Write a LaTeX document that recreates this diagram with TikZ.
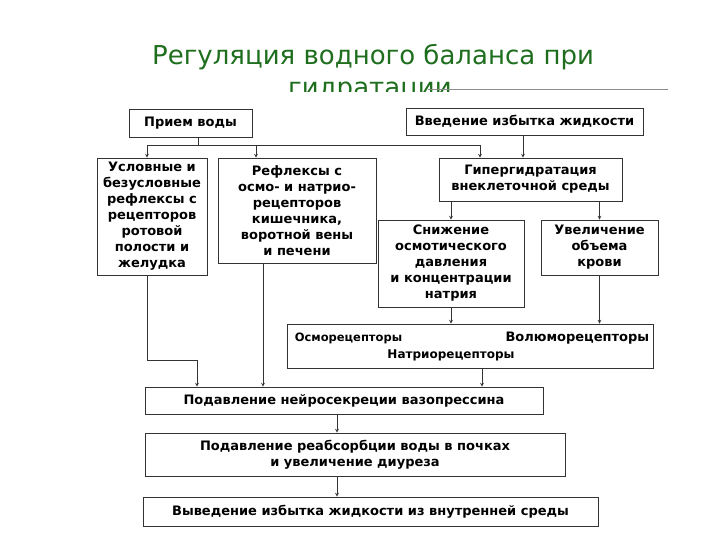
\documentclass[tikz,border=0pt]{standalone}
\usepackage{fontspec}
\setmainfont{DejaVu Sans}
\definecolor{titlegreen}{HTML}{1E6E1E}
\usetikzlibrary{positioning, arrows, calc}
\tikzstyle{arrow} = [line width=0.7pt,draw=black!80,->,>=stealth]

\begin{document}
\begin{tikzpicture}[x=1pt,y=-1pt]
                    \tikzstyle{every node}=[font=\bfseries\fontsize{13}{16}\selectfont]
                    \tikzstyle{box} = [draw=black!80, line width=0.8pt, inner sep=2pt, align=center]
                    \tikzstyle{heading} = [font=\fontsize{26}{32}\selectfont, text=titlegreen, anchor=base]
                    \tikzstyle{line} = [line width=0.7pt, draw=black!80]

                    \useasboundingbox (0,0) rectangle (720,540);

                    % title, second line hidden under the scan
                    \begin{scope}
                    \clip (0,0) rectangle (720,91.5);
                    \node[heading] (title1) at (373,65) {Регуляция водного баланса при};
                    \node[heading] (title2) at (370,97) {гидратации};
                    \end{scope}
                    \draw[black!45, line width=0.6pt] (428,89) -- (668,89);

                    % boxes
                    \node[box, minimum width=123, minimum height=28] (priem) at (190.5,123) {Прием воды};
                    \node[box, minimum width=237, minimum height=27] (vved) at (524.5,121.5) {Введение избытка жидкости};
                    \node[box, minimum width=110, minimum height=117] (uslov) at (152,216.5) {Условные и\\безусловные\\рефлексы с\\рецепторов\\ротовой\\полости и\\желудка};
                    \node[box, minimum width=158, minimum height=105] (reflex) at (297,210.5) {Рефлексы с\\осмо- и натрио-\\рецепторов\\кишечника,\\воротной вены\\и печени};
                    \node[box, minimum width=183, minimum height=43] (giper) at (530.5,179.5) {Гипергидратация\\внеклеточной среды};
                    \node[box, minimum width=146, minimum height=87] (snizh) at (451,263.5) {Снижение\\осмотического\\давления\\и концентрации\\натрия};
                    \node[box, minimum width=117, minimum height=55] (uvel) at (599.5,247.5) {Увеличение\\объема\\крови};
                    \node[box, minimum width=366, minimum height=44] (recept) at (470,346) {};
                    \node[font=\bfseries\fontsize{11.5}{14}\selectfont, anchor=west, inner sep=0pt] (osmo) at ($(recept.west)+(8,-8)$) {Осморецепторы};
                    \node[font=\bfseries\fontsize{13}{16}\selectfont, anchor=east, inner sep=0pt] (volum) at ($(recept.east)+(-4,-8)$) {Волюморецепторы};
                    \node[font=\bfseries\fontsize{12}{15}\selectfont, inner sep=0pt] (natrio) at ($(recept.center)+(-19,9)$) {Натриорецепторы};
                    \node[box, minimum width=398, minimum height=27] (vazo) at (344,400.5) {Подавление нейросекреции вазопрессина};
                    \node[box, minimum width=420, minimum height=43] (reabs) at (355,454.5) {Подавление реабсорбции воды в почках\\и увеличение диуреза};
                    \node[box, minimum width=455, minimum height=29] (vyved) at (370.5,511.5) {Выведение избытка жидкости из внутренней среды};

                    % connectors
                    \coordinate (p1) at ($(priem.south)+(7.5,0)$);
                    \coordinate (fork) at ($(p1)+(0,8)$);
                    \draw[line] (p1) -- (fork);
                    \draw[arrow] (fork) -| ($(uslov.north)+(-5,0)$);
                    \draw[arrow] (fork) -| ($(reflex.north)+(-41,0)$);
                    \draw[arrow] (fork) -| ($(giper.north)+(-50.5,0)$);
                    \coordinate (v1) at ($(vved.south)+(-1.5,0)$);
                    \draw[arrow] (v1) -- (v1 |- giper.north);
                    \draw[arrow] (giper.south -| snizh.north) -- (snizh.north);
                    \draw[arrow] (giper.south -| uvel.north) -- (uvel.north);
                    \draw[arrow] (snizh.south) -- (snizh.south |- recept.north);
                    \draw[arrow] (uvel.south) -- (uvel.south |- recept.north);
                    \draw[arrow] ($(uslov.south)+(-5,0)$) -- ++(0,85) -| ($(vazo.north)+(-147,0)$);
                    \coordinate (r1) at ($(reflex.south)+(-34,0)$);
                    \draw[arrow] (r1) -- (r1 |- vazo.north);
                    \coordinate (rc1) at ($(recept.south)+(12,0)$);
                    \draw[arrow] (rc1) -- (rc1 |- vazo.north);
                    \coordinate (vz1) at ($(vazo.south)+(-7,0)$);
                    \draw[arrow] (vz1) -- (vz1 |- reabs.north);
                    \draw[arrow] (vz1 |- reabs.south) -- (vz1 |- vyved.north);
\end{tikzpicture}
\end{document}
